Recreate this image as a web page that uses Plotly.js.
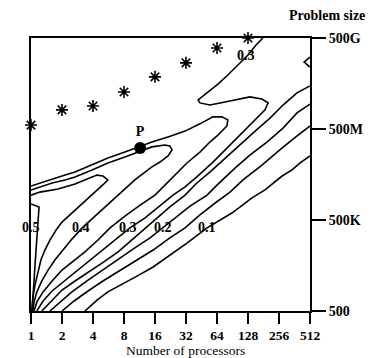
<!DOCTYPE html>
<html>
<head>
<meta charset="utf-8">
<script src="https://cdn.plot.ly/plotly-3.0.1.min.js"></script>
<style>html,body{margin:0;padding:0;background:#fff;}#chart{width:371px;height:358px;}</style>
</head>
<body>
<div id="chart"></div>
<script>
// x: log2(number of processors), y: decades of problem size above 500
const procTickVals = [0,1,2,3,4,5,6,7,8,9];
const procTickText = ['1','2','4','8','16','32','64','128','256','512'];
const sizeTickVals = [0,3,6,9];
const sizeTickText = ['500','500K','500M','500G'];

// Contour lines
const c030x = [7.48,7.26,7.00,6.68,6.35,6.03,5.68,5.39,5.45,5.77,6.10,6.58,7.06,7.45,7.65,7.55,7.29,6.84,6.42,5.87,5.35,4.97,4.58,4.16,3.68,3.19,2.71,2.23,1.84,1.52,1.10,0.68,0.39,0.19];
const c030y = [9.00,8.77,8.44,8.11,7.78,7.48,7.19,6.96,6.86,6.79,6.86,6.96,7.06,6.99,6.86,6.63,6.36,5.90,5.47,4.91,4.42,4.09,3.82,3.46,3.07,2.74,2.34,1.95,1.62,1.35,1.02,0.66,0.33,0.00];

const c035x = [0.00,0.29,0.68,1.10,1.42,1.97,2.48,3.03,3.45,3.90,4.42,4.97,5.45,5.68,5.87,6.16,6.35,6.32,6.03,5.77,5.45,5.03,4.48,4.00,3.52,3.03,2.55,2.16,1.74,1.32,1.00,0.68,0.39,0.19,0.10];
const c035y = [4.12,4.22,4.35,4.48,4.58,4.81,5.04,5.24,5.41,5.57,5.74,5.93,6.17,6.30,6.40,6.40,6.30,6.10,5.80,5.57,5.24,4.88,4.32,3.82,3.49,3.13,2.74,2.34,1.95,1.62,1.35,0.99,0.63,0.30,0.00];

const c040x = [0.00,0.29,0.68,1.10,1.42,1.97,2.48,3.03,3.52,3.90,4.32,4.48,4.55,4.42,4.16,3.90,3.35,2.81,2.39,1.97,1.65,1.32,1.03,0.77,0.55,0.35,0.19,0.10,0.06];
const c040y = [3.99,4.09,4.22,4.32,4.42,4.65,4.88,5.08,5.28,5.41,5.47,5.44,5.31,5.11,4.91,4.75,4.32,3.82,3.43,3.03,2.74,2.37,2.01,1.68,1.35,0.99,0.63,0.30,0.00];

const c045x = [0.00,0.29,0.87,1.42,1.97,2.13,2.32,2.48,2.35,2.10,1.84,1.42,1.00,0.81,0.61,0.45,0.32,0.23,0.13,0.06,0.03];
const c045y = [3.82,3.92,4.02,4.19,4.42,4.48,4.45,4.32,4.19,3.96,3.73,3.33,2.93,2.67,2.34,2.01,1.68,1.29,0.86,0.43,0.00];

const c050x = [0.00,0.13,0.26,0.23,0.19,0.16,0.13,0.10,0.06,0.03];
const c050y = [3.53,3.49,3.43,3.00,2.51,2.01,1.52,1.02,0.53,0.00];

const c025x = [9.00,8.58,8.13,7.71,7.23,6.74,6.26,5.77,5.35,4.97,4.48,4.10,3.71,3.26,2.81,2.35,1.90,1.42,1.00,0.68,0.35];
const c025y = [7.42,7.19,6.79,6.36,5.93,5.47,5.04,4.58,4.22,3.82,3.43,3.10,2.74,2.34,1.95,1.62,1.32,0.99,0.69,0.36,0.00];

const c020x = [9.00,8.58,8.13,7.61,7.06,6.58,6.00,5.68,5.13,4.65,4.26,3.84,3.35,2.87,2.32,1.84,1.32,0.94,0.61];
const c020y = [6.82,6.53,6.03,5.57,5.14,4.71,4.15,3.82,3.46,3.07,2.74,2.41,2.08,1.75,1.35,1.02,0.63,0.30,0.00];

const c015x = [9.00,8.45,7.94,7.45,6.84,6.42,5.94,5.45,4.97,4.48,3.94,3.42,2.87,2.32,1.84,1.39,1.00];
const c015y = [6.10,5.67,5.24,4.81,4.32,3.92,3.56,3.17,2.74,2.41,2.01,1.68,1.35,0.99,0.66,0.33,0.00];

const c010x = [9.00,8.68,8.42,8.10,7.55,7.13,6.48,5.94,5.68,5.03,4.48,3.94,3.42,2.87,2.48,2.13,1.74];
const c010y = [5.11,4.88,4.65,4.45,3.99,3.73,3.23,2.90,2.74,2.24,1.85,1.45,1.15,0.86,0.63,0.36,0.00];

const notchX = [9.00,8.81,9.00];
const notchY = [8.37,8.21,8.04];

// Memory-limit stars and point P
const starX = [0,1,2,3,4,5,6,7];
const starY = [6.13,6.63,6.76,7.22,7.72,8.18,8.67,9.00];
const pointX = [3.52];
const pointY = [5.37];
const pointText = ['P'];

// Contour labels
const labelText = ['0.5','0.4','0.3','0.2','0.1','0.3'];
const labelX = [0.00,1.61,3.13,4.26,5.68,6.94];
const labelY = [2.74,2.74,2.74,2.74,2.74,8.41];

const serif = 'Liberation Serif, Times New Roman, serif';
const lineStyle = {color:'#000', width:1.6};
function contour(x, y, name){
  return {x:x, y:y, type:'scatter', mode:'lines', name:name, line:lineStyle, hoverinfo:'skip'};
}

const traces = [
  contour(c050x, c050y, '0.5'),
  contour(c045x, c045y, '0.45'),
  contour(c040x, c040y, '0.4'),
  contour(c035x, c035y, '0.35'),
  contour(c030x, c030y, '0.3'),
  contour(c025x, c025y, '0.25'),
  contour(c020x, c020y, '0.2'),
  contour(c015x, c015y, '0.15'),
  contour(c010x, c010y, '0.1'),
  contour(notchX, notchY, 'notch'),
  {x:starX, y:starY, type:'scatter', mode:'markers', cliponaxis:false,
   marker:{symbol:'asterisk-open', size:10, color:'#000', line:{color:'#000', width:1.6}}},
  {x:pointX, y:pointY, type:'scatter', mode:'markers+text', text:pointText, cliponaxis:false,
   textposition:'top center', textfont:{family:serif, size:14, color:'#000', weight:'bold'},
   marker:{symbol:'circle', size:12, color:'#000'}}
];

const annotations = labelText.map((t,i)=>({
  x:labelX[i], y:labelY[i], xref:'x', yref:'y', text:t, showarrow:false,
  font:{family:serif, size:14, color:'#000', weight:'bold'}
}));
annotations.push({
  x:1.061, y:1.081, xref:'paper', yref:'paper', text:'Problem size', showarrow:false,
  xanchor:'center', yanchor:'middle', font:{family:serif, size:14, color:'#000', weight:'bold'}
});
annotations.push({
  x:0.552, y:-0.146, xref:'paper', yref:'paper', text:'Number of processors', showarrow:false,
  xanchor:'center', yanchor:'middle', borderpad:0, font:{family:serif, size:13.5, color:'#000'}
});

const layout = {
  width:371, height:358,
  margin:{l:31, r:61, t:38, b:47, pad:0},
  paper_bgcolor:'#fff', plot_bgcolor:'#fff',
  showlegend:false,
  font:{family:serif, color:'#000'},
  xaxis:{
    range:[0,9], tickvals:procTickVals, ticktext:procTickText,
    ticks:'outside', ticklen:11, tickwidth:1.5, tickcolor:'#000',
    showline:true, linewidth:2, linecolor:'#000', mirror:true,
    showgrid:false, zeroline:false, fixedrange:true,
    tickfont:{family:serif, size:13.5, color:'#000', weight:'bold'}
  },
  yaxis:{
    side:'right', range:[0,9], tickvals:sizeTickVals, ticktext:sizeTickText,
    ticks:'outside', ticklen:14, tickwidth:1.5, tickcolor:'#000',
    showline:true, linewidth:2, linecolor:'#000', mirror:true,
    showgrid:false, zeroline:false, fixedrange:true,
    tickfont:{family:serif, size:14, color:'#000', weight:'bold'}
  },
  annotations:annotations
};

Plotly.newPlot('chart', traces, layout, {displayModeBar:false, staticPlot:true});
</script>
</body>
</html>
